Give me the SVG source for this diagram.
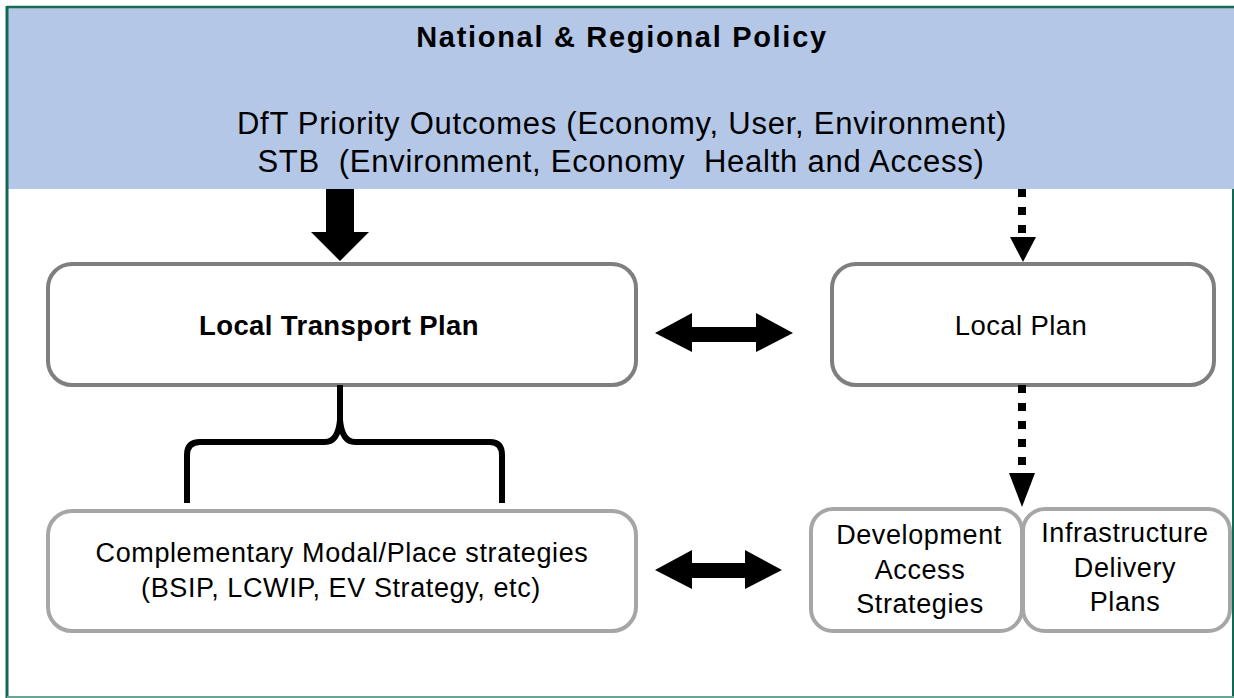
<svg xmlns="http://www.w3.org/2000/svg" width="1234" height="698" viewBox="0 0 1234 698">
<style>
.t{font-family:"Liberation Sans",Arial,sans-serif;fill:#000;text-anchor:middle}
.b{font-weight:bold}
.box{font-size:27px;letter-spacing:0.6px}
.dark{fill:#fff;stroke:#7f7f7f;stroke-width:4}
.light{fill:#fff;stroke:#a6a6a6;stroke-width:4}
.dot{stroke:#000;stroke-width:8;stroke-dasharray:8 10;fill:none}
</style>
<rect x="0" y="0" width="1234" height="698" fill="#fff"/>
<g id="policy">
<rect x="8" y="8" width="1226" height="181" fill="#b4c7e7"/>
<line x1="7" y1="7" x2="1234" y2="7" stroke="#1a6a55" stroke-width="2.5"/>
<text class="t b" x="622" y="47" font-size="29" letter-spacing="1.7">National &amp; Regional Policy</text>
<text class="t" x="622" y="134" font-size="31" letter-spacing="0.75">DfT Priority Outcomes (Economy, User, Environment)</text>
<text class="t" x="621" y="172" font-size="31" letter-spacing="0.75" xml:space="preserve">STB  (Environment, Economy  Health and Access)</text>
</g>
<g id="frame" fill="none">
<line x1="7" y1="6" x2="7" y2="698" stroke="#0e6a52" stroke-width="3"/>
<line x1="1233" y1="189" x2="1233" y2="698" stroke="#0e6a52" stroke-width="2"/>
<line x1="7" y1="697" x2="1234" y2="697" stroke="#6aa593" stroke-width="2"/>
</g>
<g id="ltp">
<rect class="dark" x="48" y="264" width="588" height="121" rx="24"/>
<text class="t b" x="339" y="335" font-size="27.5" letter-spacing="0.4">Local Transport Plan</text>
</g>
<g id="localplan">
<rect class="dark" x="832" y="264" width="382" height="121" rx="24"/>
<text class="t" x="1021" y="335" font-size="27.5" letter-spacing="0.4">Local Plan</text>
</g>
<g id="complementary">
<rect class="light" x="48" y="511" width="588" height="120" rx="24"/>
<text class="t box" x="342" y="562">Complementary Modal/Place strategies</text>
<text class="t box" x="341" y="597">(BSIP, LCWIP, EV Strategy, etc)</text>
</g>
<g id="development">
<rect class="light" x="811" y="509" width="211" height="122" rx="22"/>
<text class="t box" x="919" y="544">Development</text>
<text class="t box" x="920" y="579">Access</text>
<text class="t box" x="920" y="613">Strategies</text>
</g>
<g id="infrastructure">
<rect class="light" x="1023" y="509" width="207" height="122" rx="22"/>
<text class="t box" x="1125" y="542">Infrastructure</text>
<text class="t box" x="1125" y="577">Delivery</text>
<text class="t box" x="1125" y="611">Plans</text>
</g>
<g id="connectors">
<polygon points="326,189 354,189 354,232 369,232 340,261 311,232 326,232" fill="#000"/>
<line class="dot" x1="1022" y1="189" x2="1022" y2="237"/>
<polygon points="1010,237 1036,237 1023,262" fill="#000"/>
<line class="dot" x1="1022" y1="385" x2="1022" y2="473"/>
<polygon points="1009,473 1035,473 1022,507" fill="#000"/>
<polygon points="655,333 692,313 692,327 756,327 756,313 793,333 756,352 756,342 692,342 692,352" fill="#000"/>
<polygon points="655,570 692,550 692,563 745,563 745,550 782,570 745,589 745,578 692,578 692,589" fill="#000"/>
<path d="M187,503 L187,455 Q187,442 200,442 L325,442 Q338,442 340,420 L340,385 M340,385 L340,420 Q342,442 355,442 L490,442 Q502,442 502,455 L502,503" fill="none" stroke="#000" stroke-width="6"/>
</g>
</svg>
